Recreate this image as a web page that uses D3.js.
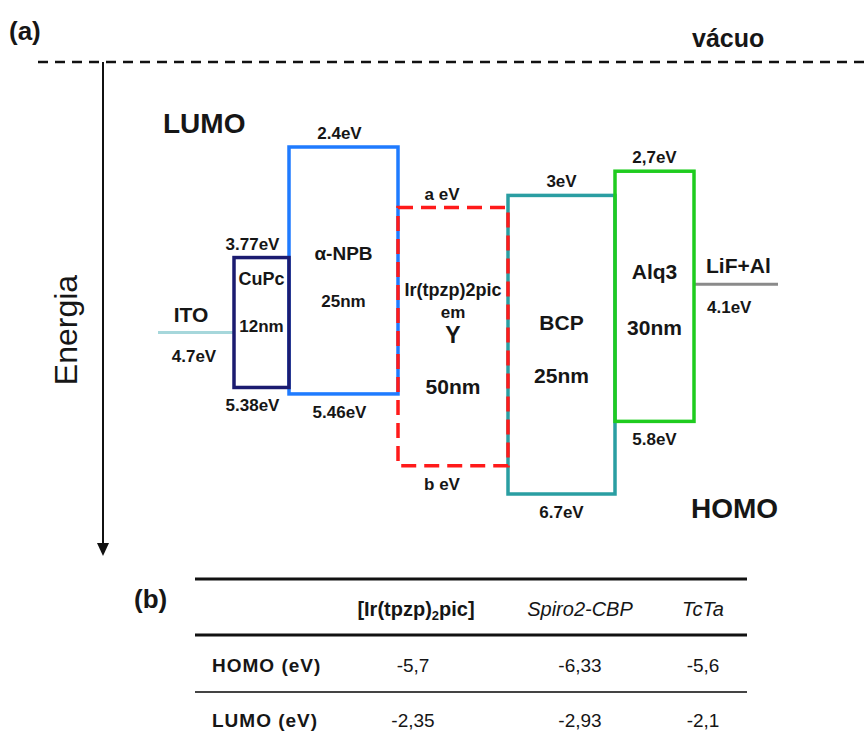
<!DOCTYPE html>
<html>
<head>
<meta charset="utf-8">
<script src="https://cdn.jsdelivr.net/npm/d3@7"></script>
<style>
  body { margin: 0; background: #fff; }
  svg { display: block; }
  text { font-family: "Liberation Sans", Arial, Helvetica, sans-serif; fill: #161616; }
</style>
</head>
<body>
<svg id="chart" width="867" height="740"></svg>
<script>
// ---------- data: OLED stack (energies in eV below vacuum) ----------
const layerNameLines = [["CuPc"], ["α-NPB"], ["Ir(tpzp)2pic", "em", "Y"], ["BCP"], ["Alq3"]];
const layerThickness = ["12nm", "25nm", "50nm", "25nm", "30nm"];
const lumoLevels = [3.77, 2.4, 3.15, 3.0, 2.7];
const homoLevels = [5.38, 5.46, 6.35, 6.7, 5.8];
const lumoLabels = ["3.77eV", "2.4eV", "a eV", "3eV", "2,7eV"];
const homoLabels = ["5.38eV", "5.46eV", "b eV", "6.7eV", "5.8eV"];

// electrodes
const electrodeNames = ["ITO", "LiF+Al"];
const electrodeLevels = [4.7, 4.1];
const electrodeLabels = ["4.7eV", "4.1eV"];

// ---------- data: table (b) ----------
const tableColumns = ["[Ir(tpzp)_2pic]", "Spiro2-CBP", "TcTa"];
const tableRows = ["HOMO (eV)", "LUMO (eV)"];
const homoTable = [-5.7, -6.33, -5.6];
const lumoTable = [-2.35, -2.93, -2.1];

// ---------- layout ----------
const W = 867, H = 740;
const stackLeft = 234;
const layerWidths = [55, 109, 110, 107, 79];
const layerColors = ["#1b1b70", "#1f7bff", "#ff1a1a", "#2a9ea2", "#1fcc1f"];
const drawOrder = [1, 0, 3, 4, 2];            // dashed emissive layer on top
const labelShift = [-9, -4, -11, 0, 0];
const nameBaselines = [[285], [260], [296, 318, 343], [330], [279]];
const nameSizes = [[18], [19], [18, 17, 23], [21], [21]];
const thickBaselines = [332, 307, 394, 383, 335];
const thickSizes = [17, 17, 21, 21, 21];

const svg = d3.select("#chart");

// energy axis: deeper levels go down
const y = d3.scaleLinear().domain([2.4, 6.7]).range([147, 494]);

const xLeft = layerWidths.map((w, i) => stackLeft + d3.sum(layerWidths.slice(0, i)));
const stackRight = stackLeft + d3.sum(layerWidths);

// ---------- vacuum level & energy arrow ----------
svg.append("line")
  .attr("x1", 38).attr("x2", W).attr("y1", 62).attr("y2", 62)
  .attr("stroke", "#111").attr("stroke-width", 2.6).attr("stroke-dasharray", "10,7");
svg.append("text").attr("x", 692).attr("y", 47)
  .attr("font-size", 25).attr("font-weight", "bold").text("vácuo");

svg.append("line")
  .attr("x1", 103).attr("x2", 103).attr("y1", 62).attr("y2", 545)
  .attr("stroke", "#111").attr("stroke-width", 2);
svg.append("path").attr("d", "M97,543 L109,543 L103,556 Z").attr("fill", "#111");
svg.append("text")
  .attr("transform", "translate(77,330) rotate(-90)")
  .attr("text-anchor", "middle").attr("font-size", 32).attr("fill", "#222")
  .text("Energia");

svg.append("text").attr("x", 9).attr("y", 40)
  .attr("font-size", 26).attr("font-weight", "bold").text("(a)");
svg.append("text").attr("x", 163).attr("y", 133)
  .attr("font-size", 28).attr("font-weight", "bold").text("LUMO");
svg.append("text").attr("x", 691).attr("y", 518)
  .attr("font-size", 28).attr("font-weight", "bold").text("HOMO");

// ---------- electrodes ----------
const elec = [
  { x1: 158, x2: stackLeft, color: "#a6d7db", nameX: 191, labelX: 194, anchor: "middle" },
  { x1: stackRight, x2: 778, color: "#8a8a8a", nameX: 706, labelX: 707, anchor: "start" }
];
elec.forEach((e, i) => {
  const ly = y(electrodeLevels[i]);
  svg.append("line").attr("x1", e.x1).attr("x2", e.x2).attr("y1", ly).attr("y2", ly)
    .attr("stroke", e.color).attr("stroke-width", 3);
  svg.append("text").attr("x", e.nameX).attr("y", ly - 11)
    .attr("text-anchor", e.anchor).attr("font-size", 21).attr("font-weight", "bold")
    .text(electrodeNames[i]);
  svg.append("text").attr("x", e.labelX).attr("y", ly + 29)
    .attr("text-anchor", e.anchor).attr("font-size", 17).attr("font-weight", "bold")
    .text(electrodeLabels[i]);
});

// ---------- layer boxes ----------
const boxes = svg.append("g");
drawOrder.forEach(i => {
  boxes.append("rect")
    .attr("x", xLeft[i]).attr("width", layerWidths[i])
    .attr("y", y(lumoLevels[i]))
    .attr("height", y(homoLevels[i]) - y(lumoLevels[i]))
    .attr("fill", "none")
    .attr("stroke", layerColors[i])
    .attr("stroke-width", 3.5)
    .attr("stroke-dasharray", i === 2 ? "15,8" : null);
});

// level labels and layer names
layerNameLines.forEach((lines, i) => {
  const cx = xLeft[i] + layerWidths[i] / 2;
  svg.append("text").attr("x", cx + labelShift[i]).attr("y", y(lumoLevels[i]) - 8)
    .attr("text-anchor", "middle").attr("font-size", 17).attr("font-weight", "bold")
    .text(lumoLabels[i]);
  svg.append("text").attr("x", cx + labelShift[i]).attr("y", y(homoLevels[i]) + 24)
    .attr("text-anchor", "middle").attr("font-size", 17).attr("font-weight", "bold")
    .text(homoLabels[i]);
  lines.forEach((t, k) => {
    svg.append("text").attr("x", cx).attr("y", nameBaselines[i][k])
      .attr("text-anchor", "middle").attr("font-size", nameSizes[i][k]).attr("font-weight", "bold")
      .text(t);
  });
  svg.append("text").attr("x", cx).attr("y", thickBaselines[i])
    .attr("text-anchor", "middle").attr("font-size", thickSizes[i]).attr("font-weight", "bold")
    .text(layerThickness[i]);
});

// ---------- table (b) ----------
const tLeft = 195, tRight = 747;
const colX = [416, 580, 703];
const rowY = [672, 727];
const fmt = v => String(v).replace(".", ",");

svg.append("text").attr("x", 134).attr("y", 608)
  .attr("font-size", 26).attr("font-weight", "bold").text("(b)");

[[579, 3, "#111"], [635, 3, "#111"], [692, 2, "#444"]].forEach(([ry, sw, c]) => {
  svg.append("line").attr("x1", tLeft).attr("x2", tRight).attr("y1", ry).attr("y2", ry)
    .attr("stroke", c).attr("stroke-width", sw);
});

tableColumns.forEach((name, j) => {
  const t = svg.append("text").attr("x", colX[j]).attr("y", 616)
    .attr("text-anchor", "middle").attr("font-size", 20);
  if (j === 0) {
    t.attr("font-weight", "bold");
    const parts = name.split("_2");
    t.append("tspan").text(parts[0]);
    t.append("tspan").attr("font-size", 13).attr("dy", 4).text("2");
    t.append("tspan").attr("dy", -4).text(parts[1]);
  } else {
    t.attr("font-style", "italic").attr("fill", "#111").text(name);
  }
});

[homoTable, lumoTable].forEach((vals, r) => {
  svg.append("text").attr("x", 212).attr("y", rowY[r])
    .attr("font-size", 19).attr("font-weight", "bold").attr("letter-spacing", 1)
    .text(tableRows[r]);
  vals.forEach((v, j) => {
    svg.append("text").attr("x", colX[j] - (j === 0 ? 3 : 0)).attr("y", rowY[r])
      .attr("text-anchor", "middle").attr("font-size", 19).attr("fill", "#222")
      .text(fmt(v));
  });
});
</script>
</body>
</html>
